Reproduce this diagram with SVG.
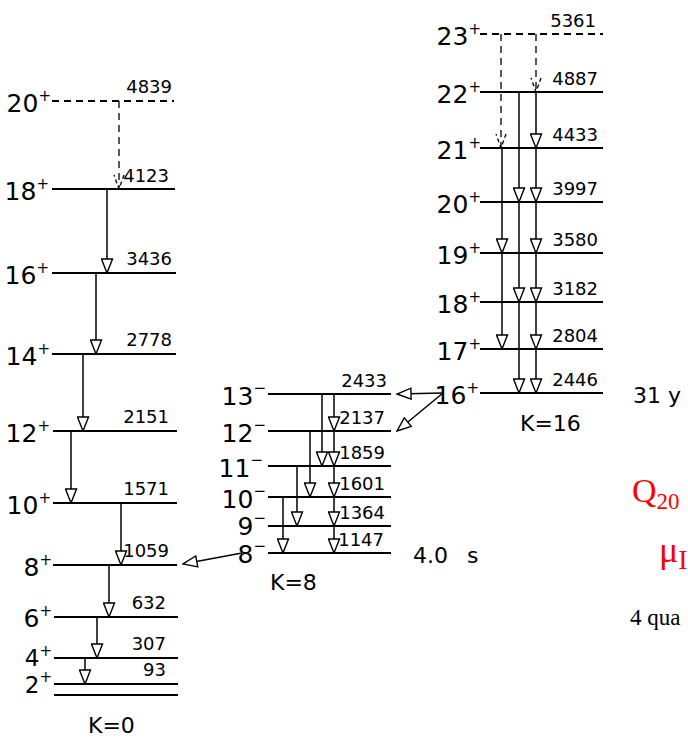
<svg xmlns="http://www.w3.org/2000/svg" width="688" height="738" viewBox="0 0 688 738">
<defs>
<style>
.lv{stroke:#000;stroke-width:2;fill:none}
.ds{stroke-dasharray:7 5}
.tr{stroke:#000;stroke-width:1.5;fill:none;marker-end:url(#ah)}
.dtr{stroke:#000;stroke-width:1.3;fill:none;stroke-dasharray:7 5;marker-end:url(#dah)}
.e{font-family:"DejaVu Sans",sans-serif;font-size:18px;text-anchor:end;fill:#000}
.s{font-family:"DejaVu Sans",sans-serif;font-size:25px;text-anchor:end;fill:#000}
.sm{font-size:23px}
.sup{font-size:15px}
.k{font-family:"DejaVu Sans",sans-serif;font-size:22px;fill:#000}
.red{font-family:"Liberation Serif",serif;fill:#ff0000}
</style>
<marker id="ah" viewBox="0 0 16 13" refX="15" refY="6.5" markerWidth="16" markerHeight="13" markerUnits="userSpaceOnUse" orient="auto">
<path d="M1,1 L15,6.5 L1,12 Z" fill="#fff" stroke="#000" stroke-width="1.4"/>
</marker>
<marker id="dah" viewBox="0 0 16 12" refX="15" refY="6" markerWidth="16" markerHeight="12" markerUnits="userSpaceOnUse" orient="auto">
<path d="M1,1 L15,6 L1,11" fill="none" stroke="#000" stroke-width="1.3" stroke-dasharray="4 3"/>
</marker>
</defs>
<rect width="688" height="738" fill="#fff"/>

<!-- K=0 band -->
<g id="k0-20"><line class="lv ds" x1="52" y1="101" x2="174" y2="101"/><text class="s" x="51" y="112">20<tspan class="sup" dy="-11">+</tspan></text><text class="e" x="172" y="93">4839</text></g>
<g id="k0-18"><line class="lv" x1="52" y1="189" x2="175" y2="189"/><text class="s" x="49" y="200">18<tspan class="sup" dy="-11">+</tspan></text><text class="e" x="169" y="182">4123</text></g>
<g id="k0-16"><line class="lv" x1="52" y1="273" x2="176" y2="273"/><text class="s" x="49" y="284">16<tspan class="sup" dy="-11">+</tspan></text><text class="e" x="172" y="265">3436</text></g>
<g id="k0-14"><line class="lv" x1="52" y1="354" x2="176" y2="354"/><text class="s" x="50" y="365">14<tspan class="sup" dy="-11">+</tspan></text><text class="e" x="172" y="346">2778</text></g>
<g id="k0-12"><line class="lv" x1="53" y1="431" x2="177" y2="431"/><text class="s" x="50" y="442">12<tspan class="sup" dy="-11">+</tspan></text><text class="e" x="169" y="423">2151</text></g>
<g id="k0-10"><line class="lv" x1="53" y1="503" x2="177" y2="503"/><text class="s" x="51" y="514">10<tspan class="sup" dy="-11">+</tspan></text><text class="e" x="169" y="495">1571</text></g>
<g id="k0-8"><line class="lv" x1="53" y1="565" x2="177" y2="565"/><text class="s" x="52" y="576">8<tspan class="sup" dy="-11">+</tspan></text><text class="e" x="169" y="557">1059</text></g>
<g id="k0-6"><line class="lv" x1="54" y1="617" x2="178" y2="617"/><text class="s" x="52" y="627">6<tspan class="sup" dy="-11">+</tspan></text><text class="e" x="166" y="609">632</text></g>
<g id="k0-4"><line class="lv" x1="54" y1="658" x2="178" y2="658"/><text class="s sm" x="52" y="666">4<tspan class="sup" dy="-10">+</tspan></text><text class="e" x="166" y="650">307</text></g>
<g id="k0-2"><line class="lv" x1="54" y1="684" x2="178" y2="684"/><text class="s sm" x="52" y="693">2<tspan class="sup" dy="-11">+</tspan></text><text class="e" x="166" y="676">93</text></g>
<g id="k0-0"><line class="lv" x1="54" y1="695" x2="178" y2="695"/></g>
<text class="k" x="88" y="733">K=0</text>

<!-- K=8 band -->
<g id="k8-13"><line class="lv" x1="268" y1="394" x2="391" y2="394"/><text class="s" x="266" y="405">13<tspan class="sup" dy="-12">−</tspan></text><text class="e" x="387" y="387">2433</text></g>
<g id="k8-12"><line class="lv" x1="268" y1="431" x2="391" y2="431"/><text class="s" x="266" y="442">12<tspan class="sup" dy="-12">−</tspan></text><text class="e" x="385" y="424">2137</text></g>
<g id="k8-11"><line class="lv" x1="268" y1="466" x2="391" y2="466"/><text class="s" x="263" y="477">11<tspan class="sup" dy="-12">−</tspan></text><text class="e" x="385" y="459">1859</text></g>
<g id="k8-10"><line class="lv" x1="268" y1="497" x2="391" y2="497"/><text class="s" x="266" y="508">10<tspan class="sup" dy="-12">−</tspan></text><text class="e" x="385" y="490">1601</text></g>
<g id="k8-9"><line class="lv" x1="268" y1="526" x2="391" y2="526"/><text class="s" x="266" y="535">9<tspan class="sup" dy="-12">−</tspan></text><text class="e" x="385" y="519">1364</text></g>
<g id="k8-8"><line class="lv" x1="268" y1="553" x2="391" y2="553"/><text class="s" x="266" y="563">8<tspan class="sup" dy="-12">−</tspan></text><text class="e" x="384" y="546">1147</text></g>
<text class="k" x="270" y="590">K=8</text>
<text class="k" x="413" y="563" style="word-spacing:12px">4.0 s</text>

<!-- K=16 band -->
<g id="k16-23"><line class="lv ds" x1="480" y1="34" x2="603" y2="34"/><text class="s" x="481" y="45">23<tspan class="sup" dy="-11">+</tspan></text><text class="e" x="596" y="27">5361</text></g>
<g id="k16-22"><line class="lv" x1="480" y1="92" x2="603" y2="92"/><text class="s" x="481" y="103">22<tspan class="sup" dy="-11">+</tspan></text><text class="e" x="598" y="85">4887</text></g>
<g id="k16-21"><line class="lv" x1="480" y1="148" x2="603" y2="148"/><text class="s" x="481" y="159">21<tspan class="sup" dy="-11">+</tspan></text><text class="e" x="598" y="141">4433</text></g>
<g id="k16-20"><line class="lv" x1="480" y1="202" x2="603" y2="202"/><text class="s" x="481" y="213">20<tspan class="sup" dy="-11">+</tspan></text><text class="e" x="598" y="195">3997</text></g>
<g id="k16-19"><line class="lv" x1="480" y1="253" x2="603" y2="253"/><text class="s" x="481" y="264">19<tspan class="sup" dy="-11">+</tspan></text><text class="e" x="598" y="246">3580</text></g>
<g id="k16-18"><line class="lv" x1="480" y1="302" x2="603" y2="302"/><text class="s" x="481" y="313">18<tspan class="sup" dy="-11">+</tspan></text><text class="e" x="598" y="295">3182</text></g>
<g id="k16-17"><line class="lv" x1="480" y1="349" x2="603" y2="349"/><text class="s" x="481" y="360">17<tspan class="sup" dy="-11">+</tspan></text><text class="e" x="598" y="342">2804</text></g>
<g id="k16-16"><line class="lv" x1="480" y1="393" x2="603" y2="393"/><text class="s" x="479" y="404">16<tspan class="sup" dy="-11">+</tspan></text><text class="e" x="598" y="386">2446</text></g>
<text class="k" x="520" y="431">K=16</text>
<text class="k" x="633" y="403">31 y</text>

<!-- connectors -->
<g id="connectors">
<line class="dtr" x1="119" y1="101" x2="119" y2="189"/>
<line class="tr" x1="107" y1="189" x2="107" y2="273"/>
<line class="tr" x1="96" y1="273" x2="96" y2="354"/>
<line class="tr" x1="83" y1="354" x2="83" y2="431"/>
<line class="tr" x1="71" y1="431" x2="71" y2="503"/>
<line class="tr" x1="121" y1="503" x2="121" y2="565"/>
<line class="tr" x1="109" y1="565" x2="109" y2="617"/>
<line class="tr" x1="97" y1="617" x2="97" y2="658"/>
<line class="tr" x1="85" y1="658" x2="85" y2="684"/>

<line class="tr" x1="322" y1="394" x2="322" y2="466"/>
<line class="tr" x1="334" y1="394" x2="334" y2="431"/>
<line class="tr" x1="310" y1="431" x2="310" y2="497"/>
<line class="tr" x1="334" y1="431" x2="334" y2="466"/>
<line class="tr" x1="297" y1="466" x2="297" y2="526"/>
<line class="tr" x1="334" y1="466" x2="334" y2="497"/>
<line class="tr" x1="283" y1="497" x2="283" y2="553"/>
<line class="tr" x1="334" y1="497" x2="334" y2="526"/>
<line class="tr" x1="334" y1="526" x2="334" y2="553"/>

<line class="dtr" x1="501" y1="34" x2="501" y2="148"/>
<line class="dtr" x1="536" y1="34" x2="536" y2="92"/>
<line class="tr" x1="502" y1="148" x2="502" y2="253"/>
<line class="tr" x1="502" y1="253" x2="502" y2="349"/>
<line class="tr" x1="519" y1="92" x2="519" y2="202"/>
<line class="tr" x1="519" y1="202" x2="519" y2="302"/>
<line class="tr" x1="519" y1="302" x2="519" y2="393"/>
<line class="tr" x1="536" y1="92" x2="536" y2="148"/>
<line class="tr" x1="536" y1="148" x2="536" y2="202"/>
<line class="tr" x1="536" y1="202" x2="536" y2="253"/>
<line class="tr" x1="536" y1="253" x2="536" y2="302"/>
<line class="tr" x1="536" y1="302" x2="536" y2="349"/>
<line class="tr" x1="536" y1="349" x2="536" y2="393"/>

<line class="tr" x1="443" y1="393" x2="397" y2="394"/>
<line class="tr" x1="443" y1="393" x2="397" y2="431"/>
<line class="tr" x1="242" y1="553" x2="183" y2="564"/>
</g>

<!-- annotations -->
<text class="red" x="632" y="502" font-size="34">Q<tspan font-size="23" dy="7">20</tspan></text>
<text class="red" x="659" y="562" font-size="36">μ<tspan font-size="28" dy="7">I</tspan></text>
<text x="630" y="625" font-family="Liberation Serif, serif" font-size="23">4 qua</text>
</svg>
